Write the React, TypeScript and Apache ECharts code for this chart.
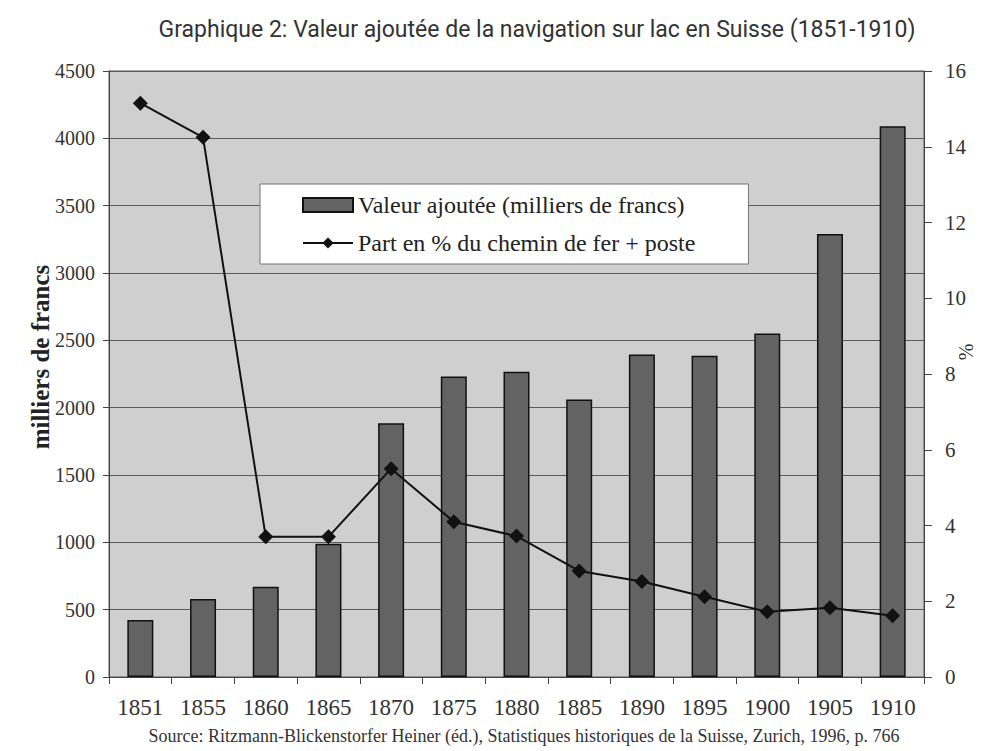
import React, { useEffect, useRef } from "react";
import * as echarts from "echarts";

const years = ["1851", "1855", "1860", "1865", "1870", "1875", "1880", "1885", "1890", "1895", "1900", "1905", "1910"];
const valeurAjoutee = [423, 580, 670, 990, 1885, 2232, 2266, 2060, 2395, 2386, 2550, 3290, 4090];
const partPct = [15.15, 14.25, 3.7, 3.7, 5.5, 4.1, 3.72, 2.8, 2.52, 2.12, 1.72, 1.83, 1.62];
const leftTicks = { min: 0, max: 4500, interval: 500 };
const rightTicks = { min: 0, max: 16, interval: 2 };

const SERIF = "Liberation Serif";

export default function App() {
  const ref = useRef<HTMLDivElement>(null);
  useEffect(() => {
    if (!ref.current) return;
    const chart = echarts.init(ref.current, undefined, { renderer: "svg" });
    chart.setOption({
      animation: false,
      backgroundColor: "#ffffff",
      title: {
        text: "Graphique 2: Valeur ajoutée de la navigation sur lac en Suisse (1851-1910)",
        left: 532,
        textAlign: "center",
        top: 13,
        textStyle: { fontFamily: "Roboto", fontSize: 23, fontWeight: "normal", color: "#333" },
      },
      grid: {
        left: 109,
        right: 78,
        top: 71,
        bottom: 74,
        show: true,
        backgroundColor: "#cfcfcf",
        borderColor: "#555",
        borderWidth: 1,
      },
      legend: {
        left: 260,
        top: 184,
        orient: "vertical",
        backgroundColor: "#ffffff",
        borderColor: "#777",
        borderWidth: 1,
        borderRadius: 0,
        padding: [9, 53, 9, 42],
        itemGap: 14,
        itemWidth: 50,
        itemHeight: 14,
        textStyle: { fontFamily: SERIF, fontSize: 24, color: "#222" },
        data: [
          { name: "Valeur ajoutée (milliers de francs)", icon: "rect" },
          { name: "Part en % du chemin de fer + poste" },
        ],
      },
      xAxis: {
        type: "category",
        data: years,
        axisLine: { lineStyle: { color: "#444", width: 1 } },
        axisTick: { show: true, length: 7, lineStyle: { color: "#444" } },
        axisLabel: { fontFamily: SERIF, fontSize: 23, color: "#333", margin: 19 },
      },
      yAxis: [
        {
          type: "value",
          min: leftTicks.min,
          max: leftTicks.max,
          interval: leftTicks.interval,
          axisLine: { show: true, lineStyle: { color: "#444" } },
          axisTick: { show: true, length: 6, lineStyle: { color: "#444" } },
          axisLabel: { fontFamily: SERIF, fontSize: 20, color: "#333", margin: 14, formatter: (v: number) => String(v) },
          splitLine: { show: true, lineStyle: { color: "#5a5a5a", width: 1 } },
        },
        {
          type: "value",
          min: rightTicks.min,
          max: rightTicks.max,
          interval: rightTicks.interval,
          position: "right",
          axisLine: { show: true, lineStyle: { color: "#444" } },
          axisTick: { show: true, length: 8, lineStyle: { color: "#444" } },
          axisLabel: { fontFamily: SERIF, fontSize: 21, color: "#333", margin: 21, formatter: (v: number) => String(v) },
          splitLine: { show: false },
        },
      ],
      series: [
        {
          name: "Valeur ajoutée (milliers de francs)",
          type: "bar",
          data: valeurAjoutee,
          yAxisIndex: 0,
          barWidth: 26,
          itemStyle: { color: "#636363", borderColor: "#111", borderWidth: 1.5 },
        },
        {
          name: "Part en % du chemin de fer + poste",
          type: "line",
          data: partPct,
          yAxisIndex: 1,
          symbol: "diamond",
          symbolSize: 15,
          lineStyle: { color: "#111", width: 2 },
          itemStyle: { color: "#111" },
        },
      ],
      graphic: [
        {
          type: "text",
          x: 524,
          y: 736,
          style: {
            text: "Source: Ritzmann-Blickenstorfer Heiner (éd.), Statistiques historiques de la Suisse, Zurich, 1996, p. 766",
            fontFamily: SERIF,
            fontSize: 18,
            fill: "#333",
            align: "center",
            verticalAlign: "middle",
          },
        },
        {
          type: "text",
          x: 40,
          y: 357,
          rotation: Math.PI / 2,
          style: {
            text: "milliers de francs",
            fontFamily: SERIF,
            fontSize: 25,
            fontWeight: "bold",
            fill: "#222",
            align: "center",
            verticalAlign: "middle",
          },
        },
        {
          type: "text",
          x: 966,
          y: 352,
          rotation: Math.PI / 2,
          style: {
            text: "%",
            fontFamily: SERIF,
            fontSize: 20,
            fill: "#333",
            align: "center",
            verticalAlign: "middle",
          },
        },
      ],
    });
    return () => chart.dispose();
  }, []);
  return <div ref={ref} style={{ width: 1002, height: 751, position: "absolute", left: 0, top: 0 }} />;
}
